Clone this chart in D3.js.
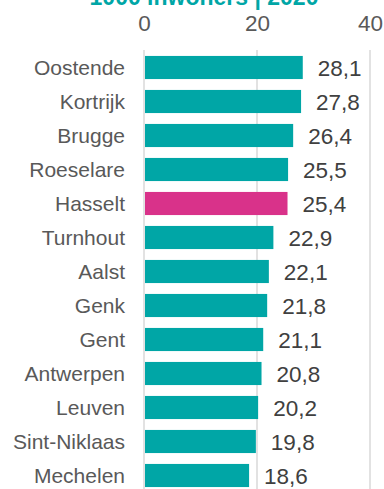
<!DOCTYPE html>
<html>
<head>
<meta charset="utf-8">
<script src="https://cdn.jsdelivr.net/npm/d3@7"></script>
<style>
  html, body { margin: 0; padding: 0; background: #ffffff; }
  svg { display: block; font-family: Arial, "Liberation Sans", sans-serif; }
</style>
</head>
<body>
<svg id="chart" width="384" height="489"></svg>
<script>
// Cities and their values (per 1000 inhabitants, 2020)
const cities = ["Oostende", "Kortrijk", "Brugge", "Roeselare", "Hasselt", "Turnhout",
  "Aalst", "Genk", "Gent", "Antwerpen", "Leuven", "Sint-Niklaas", "Mechelen"];
const values = [28.1, 27.8, 26.4, 25.5, 25.4, 22.9, 22.1, 21.8, 21.1, 20.8, 20.2, 19.8, 18.6];
const highlight = ["Hasselt"];
const tickValues = [0, 20, 40];
const titleText = "1000 inwoners | 2020";

const teal = "#00A6A6";
const pink = "#D9328A";

const svg = d3.select("#chart");

const x = d3.scaleLinear().domain([0, 40]).range([144, 370]);
const y = d3.scaleBand().domain(cities).range([50.5, 492.5]).paddingInner(0.32).paddingOuter(0.16);

const fmt = v => d3.format(".1f")(v).replace(".", ",");

// Title (sits at the very top edge)
svg.append("text")
  .attr("x", 204).attr("y", 5)
  .attr("text-anchor", "middle")
  .attr("font-size", 23).attr("font-weight", "bold")
  .attr("fill", teal)
  .text(titleText);

// Vertical gridlines
svg.append("g")
  .selectAll("line")
  .data(tickValues)
  .join("line")
  .attr("x1", d => x(d)).attr("x2", d => x(d))
  .attr("y1", 50).attr("y2", 489)
  .attr("stroke", "#d9d9d9").attr("stroke-width", 1.5);

// Top axis labels
const axis = d3.axisTop(x).tickValues(tickValues).tickSize(0).tickPadding(0);
const gAxis = svg.append("g").attr("transform", "translate(0,31)").call(axis);
gAxis.select(".domain").remove();
gAxis.selectAll("text")
  .attr("font-size", 22.5).attr("fill", "#595959")
  .attr("font-family", "Arial, Liberation Sans, sans-serif")
  .attr("dy", 0);

const rows = cities.map((c, i) => ({ city: c, value: values[i] }));

// Bars
svg.append("g")
  .selectAll("rect")
  .data(rows)
  .join("rect")
  .attr("x", x(0) + 1)
  .attr("y", d => y(d.city))
  .attr("width", d => x(d.value) - x(0) - 1)
  .attr("height", y.bandwidth())
  .attr("fill", d => highlight.includes(d.city) ? pink : teal);

// Category labels
svg.append("g")
  .selectAll("text")
  .data(rows)
  .join("text")
  .attr("x", 125)
  .attr("y", d => y(d.city) + y.bandwidth() / 2)
  .attr("dy", "0.35em")
  .attr("text-anchor", "end")
  .attr("font-size", 21)
  .attr("fill", "#595959")
  .text(d => d.city);

// Value labels
svg.append("g")
  .selectAll("text")
  .data(rows)
  .join("text")
  .attr("x", d => x(d.value) + 15)
  .attr("y", d => y(d.city) + y.bandwidth() / 2)
  .attr("dy", "0.36em")
  .attr("font-size", 22.5)
  .attr("fill", "#404040")
  .text(d => fmt(d.value));
</script>
</body>
</html>
